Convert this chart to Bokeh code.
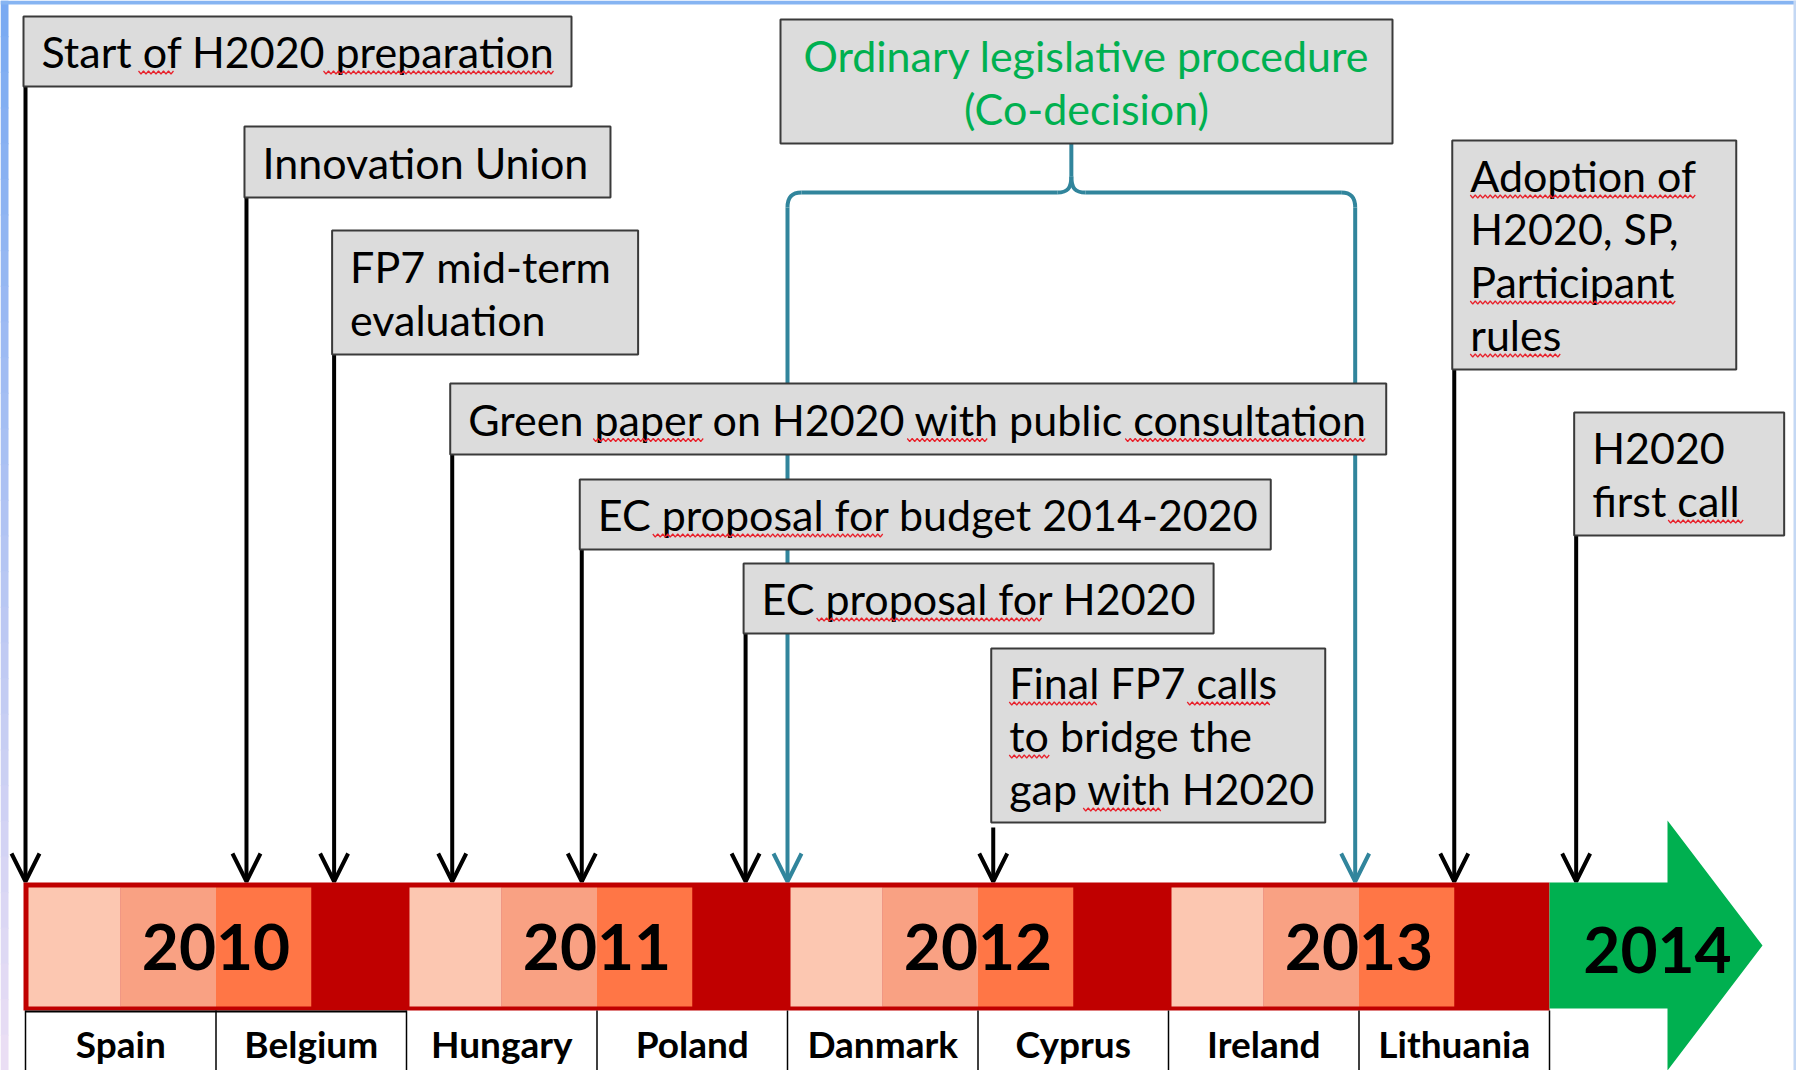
from bokeh.plotting import figure
from bokeh.models import Range1d, Arrow, OpenHead, ColumnDataSource
from bokeh.core.properties import value
from bokeh.embed import file_html
from bokeh.resources import INLINE

# ---------------- data ----------------
years = [2010, 2011, 2012, 2013]
year_labels = ["2010", "2011", "2012", "2013"]
final_year = 2014
final_year_label = "2014"
quarter_colors = ["#FCC7B1", "#F9A183", "#FF7646", "#C00000"]

presidencies = ["Spain", "Belgium", "Hungary", "Poland",
                "Danmark", "Cyprus", "Ireland", "Lithuania"]
presidency_start = [2010.0, 2010.5, 2011.0, 2011.5, 2012.0, 2012.5, 2013.0, 2013.5]

event_labels = [
    ["Start of H2020 preparation"],
    ["Innovation Union"],
    ["FP7 mid-term", "evaluation"],
    ["Green paper on H2020 with public consultation"],
    ["EC proposal for budget 2014-2020"],
    ["EC proposal for H2020"],
    ["Final FP7 calls", "to bridge the", "gap with H2020"],
    ["Adoption of", "H2020, SP,", "Participant", "rules"],
    ["H2020", "first call"],
]
event_dates = [2010.0, 2010.58, 2010.81, 2011.12, 2011.46, 2011.89, 2012.54, 2013.75, 2014.07]

codecision_label = ["Ordinary legislative procedure", "(Co-decision)"]
codecision_start = 2012.0
codecision_end = 2013.49

# ---------------- layout (pixels) ----------------
W, H = 1796, 1070
PX_PER_YEAR = 381.0
ORIGIN_PX = 25.0          # pixel of 2010.0


def px(n):
    return n / PX_PER_YEAR


box_width = [548, 366, 306, 936, 691, 470, 334, 284, 210]
box_top = [16, 126, 230, 383, 479, 563, 648, 140, 412]
box_bottom = [86, 197, 354, 454, 549, 633, 822, 369, 535]
arrow_gap = [0, 0, 0, 0, 0, 0, 5, 0, 0]
LINE_STEP = 53
TEXT_PAD = 18
BAR_TOP, BAR_BOT = 882, 1010
SEG_TOP, SEG_BOT = 887, 1006
ARROW_END = 881

# spell-check squiggles: (event index, line index, start offset px, end offset px)
squiggles = [
    (0, 0, 97, 134), (0, 0, 282, 514),
    (3, 0, 125, 236), (3, 0, 439, 521), (3, 0, 657, 897),
    (4, 0, 55, 285), (5, 0, 55, 282),
    (6, 0, 0, 88), (6, 0, 178, 262), (6, 1, 0, 40), (6, 2, 74, 153),
    (7, 0, 0, 225), (7, 2, 0, 207), (7, 3, 0, 92),
    (8, 1, 76, 152),
]

BOX_FILL = "#DCDCDC"
BOX_LINE = "#3A3A3A"
TEAL = "#31859C"
GREEN = "#00B050"
DARKRED = "#C00000"
FONT = value("Lato")
BOX_FONT_SIZE = "43px"

p = figure(width=W, height=H,
           x_range=Range1d(2010 + px(0 - ORIGIN_PX), 2010 + px(W - ORIGIN_PX)),
           y_range=Range1d(H, 0),
           x_axis_type=None, y_axis_type=None,
           output_backend="svg", toolbar_location=None, min_border=0)
p.min_border_left = p.min_border_right = p.min_border_top = p.min_border_bottom = 0
p.grid.visible = False
p.outline_line_color = None
p.background_fill_color = "white"
p.border_fill_color = "white"

X0 = 2010 + px(0 - ORIGIN_PX)
XW = 2010 + px(W - ORIGIN_PX)

# ---------------- slide frame ----------------
n_steps = 30
top_c = (122, 170, 242)
bot_c = (234, 222, 244)
fl, fr, ft, fb, fc = [], [], [], [], []
for i in range(n_steps):
    f = i / (n_steps - 1)
    c = tuple(int(round(a + (b - a) * f)) for a, b in zip(top_c, bot_c))
    fl.append(X0)
    fr.append(X0 + px(8))
    ft.append(i * H / n_steps)
    fb.append((i + 1) * H / n_steps + 1)
    fc.append("#%02x%02x%02x" % c)
p.quad(left=fl, right=fr, top=ft, bottom=fb, fill_color=fc, line_color=None)
p.quad(left=[X0], right=[XW], top=[0], bottom=[4], fill_color="#86B4F2", line_color=None)
p.quad(left=[XW - px(3)], right=[XW], top=[0], bottom=[H], fill_color="#C4D8F4", line_color=None)

# ---------------- teal co-decision brace ----------------
cs, ce = codecision_start, codecision_end
cm = (cs + ce) / 2
BR_Y = 192
TW = 4
p.segment(x0=[cm], y0=[143], x1=[cm], y1=[176], line_color=TEAL, line_width=TW)
p.bezier(x0=[cm, cm], y0=[176, 176], x1=[cm - px(14), cm + px(14)], y1=[BR_Y, BR_Y],
         cx0=[cm, cm], cy0=[188, 188], cx1=[cm - px(4), cm + px(4)], cy1=[BR_Y, BR_Y],
         line_color=TEAL, line_width=TW)
p.segment(x0=[cm - px(14), cm + px(14)], y0=[BR_Y, BR_Y],
          x1=[cs + px(14), ce - px(14)], y1=[BR_Y, BR_Y], line_color=TEAL, line_width=TW)
p.bezier(x0=[cs + px(14), ce - px(14)], y0=[BR_Y, BR_Y], x1=[cs, ce], y1=[207, 207],
         cx0=[cs + px(3), ce - px(3)], cy0=[BR_Y, BR_Y], cx1=[cs, ce], cy1=[198, 198],
         line_color=TEAL, line_width=TW)
teal_src = ColumnDataSource(dict(x0=[cs, ce], y0=[207, 207], x1=[cs, ce], y1=[ARROW_END, ARROW_END]))
p.add_layout(Arrow(end=OpenHead(size=28, line_width=TW, line_color=TEAL),
                   x_start="x0", y_start="y0", x_end="x1", y_end="y1", source=teal_src,
                   line_color=TEAL, line_width=TW, level="underlay"))

# ---------------- black event arrows ----------------
arr_src = ColumnDataSource(dict(
    x0=event_dates, y0=[b + g for b, g in zip(box_bottom, arrow_gap)],
    x1=event_dates, y1=[ARROW_END] * len(event_dates)))
p.add_layout(Arrow(end=OpenHead(size=28, line_width=4, line_color="black"),
                   x_start="x0", y_start="y0", x_end="x1", y_end="y1", source=arr_src,
                   line_color="black", line_width=4, level="underlay"))

# ---------------- event boxes ----------------
lefts = [d - px(2) for d in event_dates]
rights = [l + px(w) for l, w in zip(lefts, box_width)]
p.quad(left=lefts, right=rights, top=box_top, bottom=box_bottom,
       fill_color=BOX_FILL, line_color=BOX_LINE, line_width=2)

tx, ty, tt = [], [], []
line_pos = {}
for k, (lab, l, t, b) in enumerate(zip(event_labels, lefts, box_top, box_bottom)):
    mid = (t + b) / 2
    n = len(lab)
    for i, line in enumerate(lab):
        x = l + px(TEXT_PAD)
        y = mid + (i - (n - 1) / 2) * LINE_STEP
        line_pos[(k, i)] = (x, y)
        tx.append(x)
        ty.append(y)
        tt.append(line)
p.text(x=tx, y=ty, text=tt, text_font=FONT, text_font_size=BOX_FONT_SIZE,
       text_baseline="middle", text_align="left", text_color="black")

# red wavy spell-check underlines
sq_xs, sq_ys = [], []
for k, i, a, b in squiggles:
    x, y = line_pos[(k, i)]
    yy = y + 21
    xs_, ys_ = [], []
    s = a
    j = 0
    while s <= b:
        xs_.append(x + px(s))
        ys_.append(yy + (1.5 if j % 2 else -1.5))
        s += 2.5
        j += 1
    sq_xs.append(xs_)
    sq_ys.append(ys_)
p.multi_line(xs=sq_xs, ys=sq_ys, line_color="#E8202A", line_width=1.2)

# co-decision box
cb_left = cs - px(7)
cb_right = cb_left + px(612)
p.quad(left=[cb_left], right=[cb_right], top=[19], bottom=[143],
       fill_color=BOX_FILL, line_color=BOX_LINE, line_width=2)
p.text(x=[(cb_left + cb_right) / 2] * 2, y=[81 - LINE_STEP / 2, 81 + LINE_STEP / 2],
       text=codecision_label, text_font=FONT, text_font_size=BOX_FONT_SIZE,
       text_baseline="middle", text_align="center", text_color=GREEN)

# ---------------- timeline bar ----------------
p.quad(left=[years[0] - px(2)], right=[final_year], top=[BAR_TOP], bottom=[BAR_BOT],
       fill_color=DARKRED, line_color=None)
ql, qr, qc = [], [], []
for y in years:
    for q in range(3):
        ql.append(y + q / 4 + (px(3) if q == 0 else 0))
        qr.append(y + (q + 1) / 4)
        qc.append(quarter_colors[q])
p.quad(left=ql, right=qr, top=SEG_TOP, bottom=SEG_BOT, fill_color=qc, line_color=None)
p.text(x=[y + 0.5 for y in years], y=[946] * len(years), text=year_labels,
       text_font=FONT, text_font_style="bold", text_font_size="64px",
       text_baseline="middle", text_align="center", text_color="black")

# 2014 green arrow
hb = final_year + px(118)
tip = final_year + px(213)
p.patch(x=[final_year, hb, hb, tip, hb, hb, final_year],
        y=[BAR_TOP, BAR_TOP, 820, 945, 1070, 1008, 1008],
        fill_color=GREEN, line_color=None)
p.text(x=[final_year + px(108)], y=[949], text=[final_year_label],
       text_font=FONT, text_font_style="bold", text_font_size="64px",
       text_baseline="middle", text_align="center", text_color="black")

# ---------------- presidencies row ----------------
seps = presidency_start + [final_year]
p.segment(x0=seps, y0=[BAR_BOT] * len(seps), x1=seps, y1=[H + 5] * len(seps),
          line_color="black", line_width=1.5)
p.segment(x0=[years[0]], y0=[BAR_BOT + 1], x1=[years[1]], y1=[BAR_BOT + 1],
          line_color="black", line_width=2)
p.text(x=[s + 0.25 for s in presidency_start], y=[1043] * len(presidencies),
       text=presidencies, text_font=FONT, text_font_style="bold", text_font_size="37px",
       text_baseline="middle", text_align="center", text_color="black")

open("out.html", "w").write(file_html(p, INLINE))
